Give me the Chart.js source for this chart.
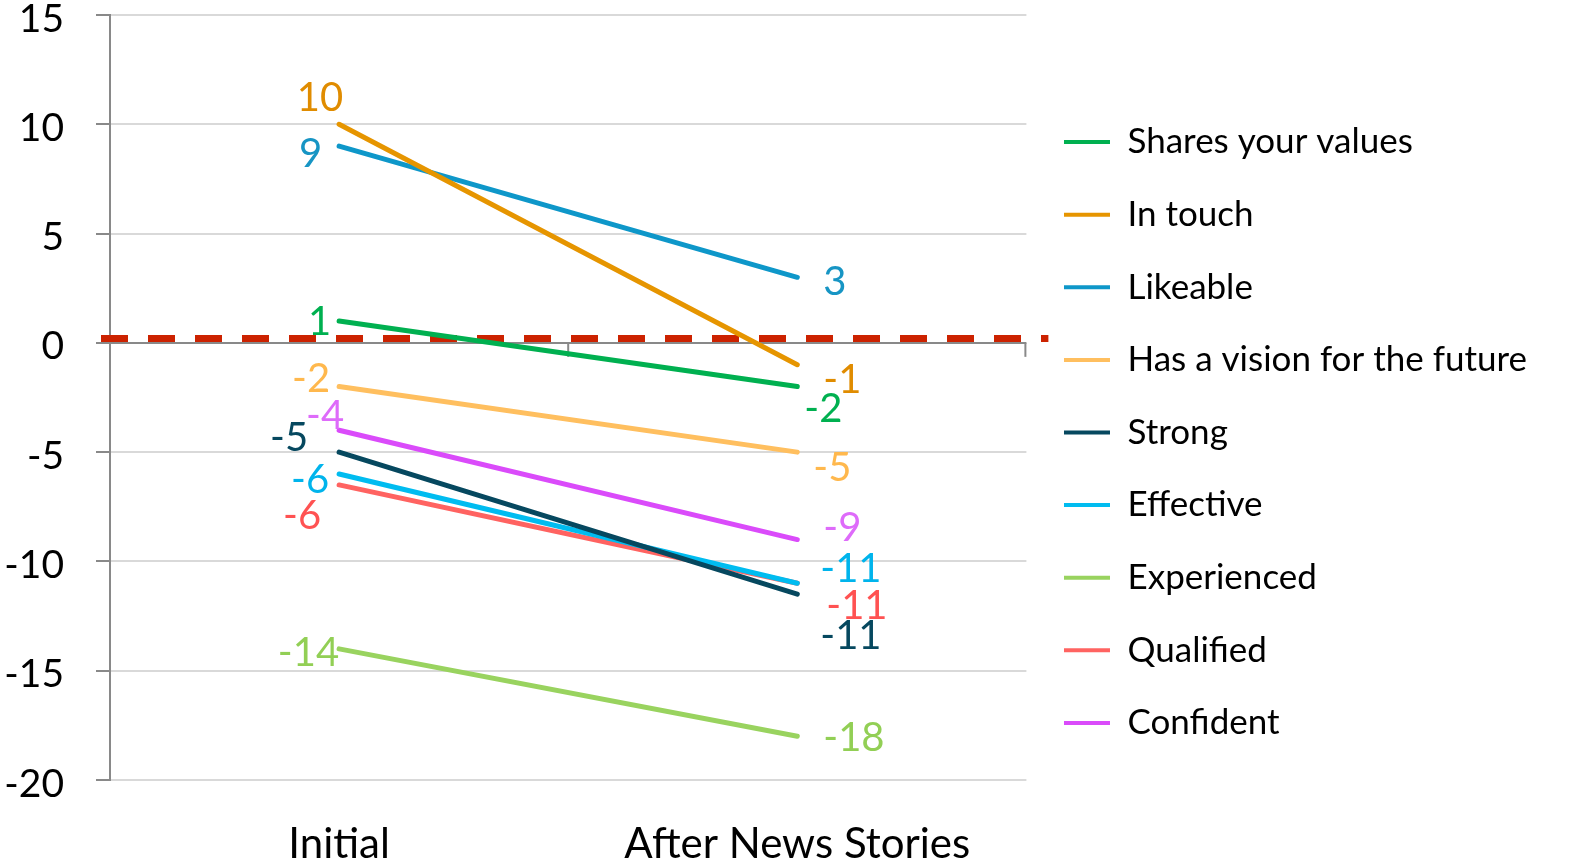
<!DOCTYPE html>
<html>
<head>
<meta charset="utf-8">
<script src="https://cdn.jsdelivr.net/npm/chart.js@4/dist/chart.umd.min.js"></script>
<style>
  html, body { margin: 0; padding: 0; background: #fff; overflow: hidden; }
  #wrap { width: 1580px; height: 865px; position: relative; }
</style>
</head>
<body>
<div id="wrap"><canvas id="chart"></canvas></div>
<script>
// data
var categories = ['Initial', 'After News Stories'];
var seriesNames = ['Shares your values', 'In touch', 'Likeable', 'Has a vision for the future',
                   'Strong', 'Effective', 'Experienced', 'Qualified', 'Confident'];
var sharesYourValues = [1, -2];
var inTouch = [10, -1];
var likeable = [9, 3];
var hasVision = [-2, -5];
var strong = [-5, -11.5];
var effective = [-6, -11];
var experienced = [-14, -18];
var qualified = [-6.5, -11];
var confident = [-4, -9];
var seriesValues = [sharesYourValues, inTouch, likeable, hasVision, strong,
                    effective, experienced, qualified, confident];
var yTickValues = [-20, -15, -10, -5, 0, 5, 10, 15];
var referenceValue = 0.2;

// styles
var lineColors = ['#00B050', '#E69500', '#0E97C9', '#FFBF5F', '#06485F',
                  '#00BCF0', '#99D35F', '#FF6361', '#DA4BFA'];
var labelColors = ['#00B050', '#E08C00', '#1795C4', '#FFB84D', '#06485F',
                   '#00B4EC', '#92CF55', '#FF5252', '#DE6BFA'];
// [dx, dy] per point: initial labels are right aligned, after labels left aligned
var labelOffsets = [
  [[-8, 1], [7, 23]],
  [[4, -26], [26, 15]],
  [[-17, 8], [26, 5]],
  [[-9, -7], [16, 16]],
  [[-31, -14], [23, 42]],
  [[-10, 6], [23, -14]],
  [[0, 4], [26, 2]],
  [[-18, 31], [29, 23]],
  [[5, -14], [26, -11]]
];

Chart.defaults.font.family = 'Lato';
Chart.defaults.color = '#000';

var datasets = seriesNames.map(function(name, i) {
  return {
    label: name,
    data: seriesValues[i],
    borderColor: lineColors[i],
    backgroundColor: lineColors[i],
    borderWidth: 5,
    pointRadius: 0,
    pointHoverRadius: 0,
    borderCapStyle: 'round',
    pointStyle: 'line'
  };
});

// red dashed reference line, category ticks on the zero line, value labels
var extrasPlugin = {
  id: 'extras',
  beforeDatasetsDraw: function(chart) {
    var ctx = chart.ctx, area = chart.chartArea;
    var x = chart.scales.x, y = chart.scales.y;
    var y0 = y.getPixelForValue(0);
    ctx.save();
    ctx.strokeStyle = '#898989';
    ctx.lineWidth = 2;
    var bounds = [(x.getPixelForTick(0) + x.getPixelForTick(1)) / 2, area.right - 1];
    bounds.forEach(function(bx) {
      ctx.beginPath();
      ctx.moveTo(bx, y0);
      ctx.lineTo(bx, y0 + 14);
      ctx.stroke();
    });
    var yr = y.getPixelForValue(referenceValue);
    ctx.strokeStyle = '#CC2200';
    ctx.lineWidth = 7;
    ctx.setLineDash([27, 20]);
    ctx.beginPath();
    ctx.moveTo(area.left - 9, yr);
    ctx.lineTo(area.right + 22, yr);
    ctx.stroke();
    ctx.restore();
  },
  afterDatasetsDraw: function(chart) {
    var ctx = chart.ctx;
    ctx.save();
    ctx.font = '40px Lato';
    ctx.textBaseline = 'middle';
    chart.data.datasets.forEach(function(ds, i) {
      var meta = chart.getDatasetMeta(i);
      meta.data.forEach(function(pt, j) {
        var off = labelOffsets[i][j];
        ctx.fillStyle = labelColors[i];
        ctx.textAlign = j === 0 ? 'right' : 'left';
        ctx.fillText(String(Math.round(ds.data[j])), pt.x + off[0], pt.y + off[1]);
      });
    });
    ctx.restore();
  }
};

new Chart(document.getElementById('chart'), {
  type: 'line',
  data: { labels: categories, datasets: datasets },
  options: {
    responsive: true,
    maintainAspectRatio: false,
    animation: false,
    events: [],
    layout: { padding: { top: 0, left: 0, right: 43, bottom: 0 } },
    plugins: {
      tooltip: { enabled: false },
      legend: {
        position: 'right',
        align: 'center',
        maxWidth: 1000,
        labels: {
          usePointStyle: true,
          pointStyleWidth: 46,
          padding: 37.6,
          color: '#000',
          font: { size: 35 },
          generateLabels: function(chart) {
            return chart.data.datasets.map(function(ds, i) {
              return {
                text: ds.label,
                strokeStyle: ds.borderColor,
                fillStyle: ds.borderColor,
                lineWidth: 4,
                pointStyle: 'line',
                datasetIndex: i,
                hidden: false
              };
            });
          }
        }
      }
    },
    scales: {
      x: {
        offset: true,
        grid: { display: false },
        border: { display: false },
        ticks: { font: { size: 42 }, padding: 31, color: '#000' },
        afterFit: function(scale) { scale.height = 85; }
      },
      y: {
        min: yTickValues[0],
        max: yTickValues[yTickValues.length - 1],
        afterBuildTicks: function(scale) {
          scale.ticks = yTickValues.map(function(v) { return { value: v }; });
        },
        grid: {
          color: function(c) { return c.tick && c.tick.value === 0 ? '#898989' : '#D9D9D9'; },
          lineWidth: 2,
          tickColor: '#898989',
          tickLength: 14
        },
        border: { color: '#898989', width: 2 },
        ticks: { font: { size: 39 }, padding: 32, labelOffset: 4, color: '#000' },
        afterFit: function(scale) {
          scale.width = 110;
          scale.paddingTop = 15;
          scale.paddingBottom = 0;
        }
      }
    }
  },
  plugins: [extrasPlugin]
});
</script>
</body>
</html>
